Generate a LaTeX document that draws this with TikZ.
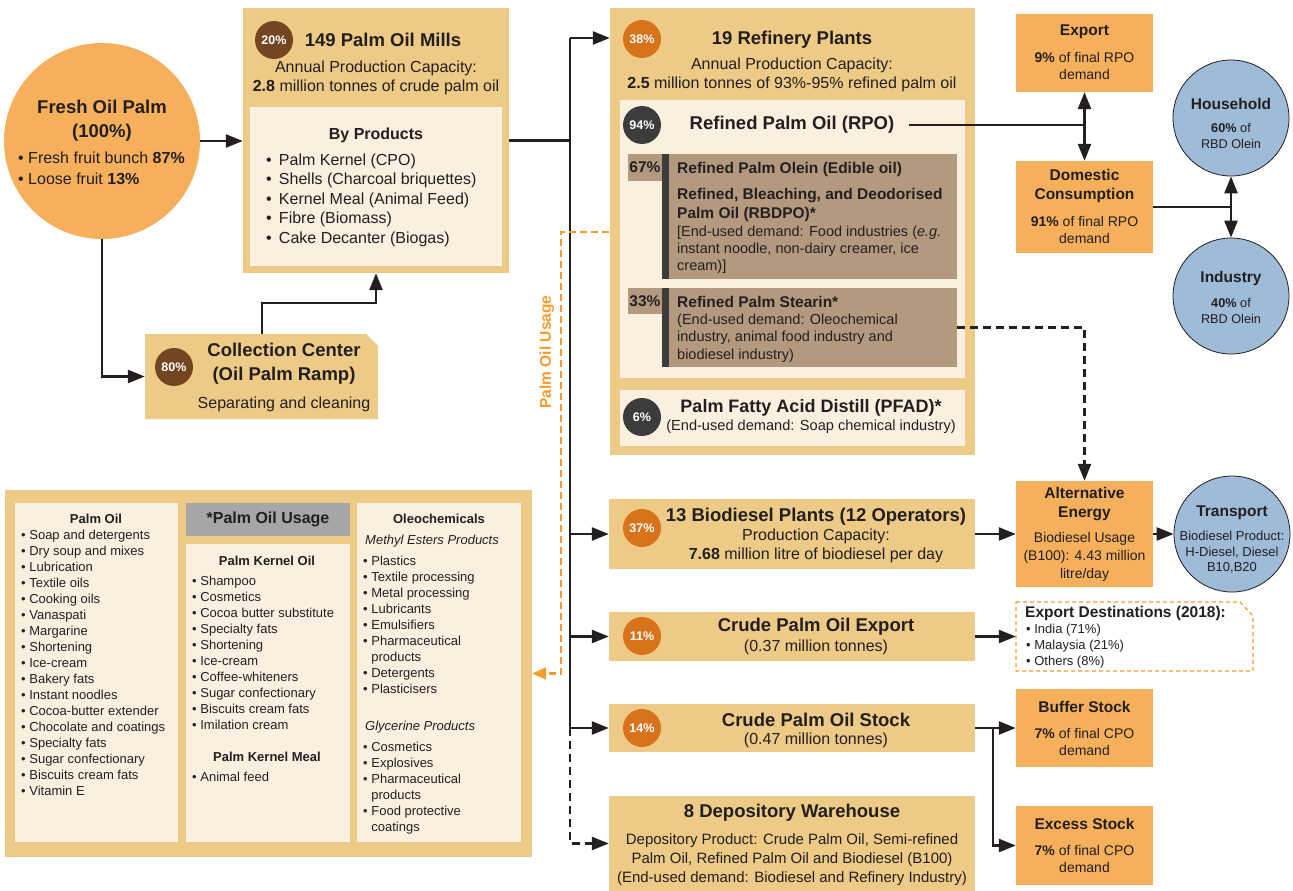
\documentclass[tikz,border=0pt]{standalone}
\usepackage{fontspec}
\setmainfont{Liberation Sans}
\usetikzlibrary{arrows.meta,fit}

\definecolor{ink}{HTML}{231F20}
\definecolor{tanc}{HTML}{EDCA86}
\definecolor{cream}{HTML}{FBF0E0}
\definecolor{peach}{HTML}{F6B05C}
\definecolor{brownpct}{HTML}{744521}
\definecolor{orangepct}{HTML}{D8731C}
\definecolor{darkpct}{HTML}{3D3C3C}
\definecolor{olein}{HTML}{B39A7F}
\definecolor{header}{HTML}{A6A6A6}
\definecolor{sky}{HTML}{9EBBD8}
\definecolor{usageor}{HTML}{F59C2C}

\newcommand{\fsz}[2]{\fontsize{#1}{#2}\selectfont}
\newcommand{\bul}{\textbullet\ }

\begin{document}
\begin{tikzpicture}[x=1pt,y=-1pt,
  panel/.style={fill=#1,inner sep=0pt},
  pct/.style={circle,fill=#1,text=white,inner sep=0pt,minimum size=38pt,font=\bfseries\fsz{12.5}{13}},
  endcirc/.style={circle,draw=ink,line width=0.8pt,fill=sky,minimum size=#1,inner sep=0pt},
  ttl/.style={font=\bfseries\fsz{18.5}{24},text=ink,align=center,inner sep=0pt},
  body/.style={font=\fsz{16}{19},text=ink,align=center,inner sep=0pt},
  sttl/.style={font=\bfseries\fsz{15.5}{18.5},text=ink,align=center,inner sep=0pt},
  sbody/.style={font=\fsz{14}{17.5},text=ink,align=center,inner sep=0pt},
  lst/.style={font=\fsz{13}{16},text=ink,align=left,inner sep=0pt,anchor=north west},
  ln/.style={draw=ink,line width=2.5pt},
  arr/.style={ln,-{Triangle[length=17pt,width=13pt]}},
  dasharr/.style={arr,dash pattern=on 8pt off 5pt},
  usagearr/.style={draw=usageor,line width=2.2pt,dash pattern=on 7pt off 4pt,-{Triangle[length=14pt,width=12pt]}}]
\useasboundingbox (0,0) rectangle (1293,891);

% fresh oil palm
\node[circle,fill=peach,minimum size=196pt,inner sep=0pt] (fresh) at (102,141) {};
\node[ttl] at (102,121) {Fresh Oil Palm\\(100\%)};
\node[body,align=left,anchor=west,font=\fsz{16}{21}] at (18,168) {\bul Fresh fruit bunch \textbf{87\%}\\\bul Loose fruit \textbf{13\%}};

% mills
\node[panel=tanc,fit={(243,8) (509,273)}] (mills) {};
\node[panel=cream,fit={(250,107) (502,266)}] (byprod) {};
\node[pct=brownpct] at (274,40) {20\%};
\node[ttl] at (383,40) {149 Palm Oil Mills};
\node[body] at (376,77.5) {Annual Production Capacity:\\\textbf{2.8} million tonnes of crude palm oil};
\node[ttl,font=\bfseries\fsz{16}{19}] at (376,135) {By Products};
\node[body,align=left,anchor=west,font=\fsz{16}{19.5}] at (266,200) {\textbullet\hspace{0.45em}Palm Kernel (CPO)\\\textbullet\hspace{0.45em}Shells (Charcoal briquettes)\\\textbullet\hspace{0.45em}Kernel Meal (Animal Feed)\\\textbullet\hspace{0.45em}Fibre (Biomass)\\\textbullet\hspace{0.45em}Cake Decanter (Biogas)};

% collection center
\fill[tanc] (145,334) -- (366,334) -- (378,346) -- (378,419) -- (145,419) -- cycle;
\node[fit={(145,334) (378,419)},inner sep=0pt] (coll) {};
\node[pct=brownpct] at (174,367) {80\%};
\node[ttl] at (284,364) {Collection Center\\(Oil Palm Ramp)};
\node[body] at (284,404) {Separating and cleaning};

\draw[arr] (fresh.east) -- (fresh.east -| mills.west);
\draw[arr] (fresh.south) |- (coll.west);
\draw[arr] ([xshift=117pt]coll.north west) |- ([yshift=-30pt]mills.south) -- (mills.south);

% trunk
\coordinate (ttop) at (570,38);
\coordinate (tmid) at (570,728);
\draw[ln] (mills.east) -- (mills.east -| ttop);
\draw[ln] (ttop) -- (tmid);

% refinery
\node[panel=tanc,fit={(610,8) (975,455)}] (refin) {};
\node[panel=cream,fit={(620,100) (965,378)}] (rpobox) {};
\node[pct=orangepct] at (642,39) {38\%};
\node[ttl] at (792,40) {19 Refinery Plants};
\node[body] at (792,75) {Annual Production Capacity:\\\textbf{2.5} million tonnes of 93\%-95\% refined palm oil};
\node[pct=darkpct] at (642,125) {94\%};
\node[ttl] (rpo) at (792,125) {Refined Palm Oil (RPO)};

\node[panel=olein,fit={(662,154) (957,279)}] (olein) {};
\fill[darkpct] (olein.north west) rectangle ([xshift=7pt]olein.south west);
\node[panel=olein,fit={(628,154) (662,181)}] (t67) {};
\node[font=\bfseries\fsz{15.5}{18},text=ink,inner sep=0pt] at (t67) {67\%};
\node[sttl,anchor=west] at (677,169) {Refined Palm Olein (Edible oil)};
\node[sttl,anchor=west,align=left,font=\bfseries\fsz{15.5}{19}] at (677,204.5) {Refined, Bleaching, and Deodorised\\Palm Oil (RBDPO)*};
\node[sbody,anchor=west,align=left,font=\fsz{14.5}{17}] at (677,250) {[End-used demand: Food industries (\textit{e.g.}\\instant noodle, non-dairy creamer, ice\\cream)]};

\node[panel=olein,fit={(662,288) (957,367)}] (stearin) {};
\fill[darkpct] (stearin.north west) rectangle ([xshift=7pt]stearin.south west);
\node[panel=olein,fit={(628,288) (662,314)}] (t33) {};
\node[font=\bfseries\fsz{15.5}{18},text=ink,inner sep=0pt] at (t33) {33\%};
\node[sttl,anchor=west] at (677,302) {Refined Palm Stearin*};
\node[sbody,anchor=west,align=left,font=\fsz{14.5}{17.5}] at (677,338) {(End-used demand: Oleochemical\\industry, animal food industry and\\biodiesel industry)};

\node[panel=cream,fit={(620,390) (965,446)}] (pfad) {};
\node[pct=darkpct] at (642,417) {6\%};
\node[ttl,font=\bfseries\fsz{18}{20}] at (811,408) {Palm Fatty Acid Distill (PFAD)*};
\node[body,font=\fsz{14.6}{17}] at (811,427) {(End-used demand: Soap chemical industry)};

\draw[arr] (ttop) -- (ttop -| refin.west);

% export and domestic
\node[panel=peach,fit={(1016,14) (1153,92)}] (export) {};
\node[sttl] at (1084.5,32) {Export};
\node[sbody,font=\fsz{14}{17}] at (1084.5,66) {\textbf{9\%} of final RPO\\demand};
\node[panel=peach,fit={(1016,161) (1153,253)}] (domestic) {};
\node[sttl] at (1084.5,186) {Domestic\\Consumption};
\node[sbody] at (1084.5,230) {\textbf{91\%} of final RPO\\demand};

\coordinate (rpoj) at (rpo.east -| export.south);
\draw[ln] ([xshift=15pt]rpo.east) -- (rpoj);
\draw[arr] (rpoj) -- (export.south);
\draw[arr] (rpoj) -- (domestic.north);

% household and industry
\node[endcirc=116pt] (house) at (1231,118) {};
\node[sttl] at (1231,104) {Household};
\node[sbody,font=\fsz{12.7}{16}] at (1231,136) {\textbf{60\%} of\\RBD Olein};
\node[endcirc=116pt] (industry) at (1231,296) {};
\node[sttl] at (1231,278) {Industry};
\node[sbody,font=\fsz{12.7}{16}] at (1231,310.5) {\textbf{40\%} of\\RBD Olein};

\coordinate (domj) at (domestic.east -| house.south);
\draw[ln] (domestic.east) -- (domj);
\draw[arr] (domj) -- (house.south);
\draw[arr] (domj) -- (industry.north);

% alternative energy
\node[panel=peach,fit={(1016,481) (1153,587)}] (alt) {};
\node[sttl] at (1084.5,504) {Alternative\\Energy};
\node[sbody,font=\fsz{14}{18}] at (1084.5,557) {Biodiesel Usage\\(B100): 4.43 million\\litre/day};
\node[endcirc=116pt] (transport) at (1232,534) {};
\node[sttl] at (1232,513) {Transport};
\node[sbody,font=\fsz{13}{15.5}] at (1232,552.5) {Biodiesel Product:\\H-Diesel, Diesel\\B10,B20};

\draw[dasharr] (stearin.east) -| (alt.north);
\draw[arr] (alt.east) -- (transport.west);

% biodiesel plants
\node[panel=tanc,fit={(609,499) (975,569)}] (bio) {};
\node[pct=orangepct] at (642,528) {37\%};
\node[ttl] at (816,517) {13 Biodiesel Plants (12 Operators)};
\node[body,font=\fsz{16}{18.5}] at (816,546) {Production Capacity:\\\textbf{7.68} million litre of biodiesel per day};
\draw[arr] (bio.west -| ttop) -- (bio.west);
\draw[arr] (bio.east) -- (alt.west);

% crude palm oil export
\node[panel=tanc,fit={(609,612) (975,661)}] (cpoexp) {};
\node[pct=orangepct] at (642,636) {11\%};
\node[ttl] at (816,627) {Crude Palm Oil Export};
\node[body] at (816,647) {(0.37 million tonnes)};
\draw[usageor,line width=1.2pt,dash pattern=on 4pt off 3pt] (1016,602) -- (1240,602) -- (1253,616) -- (1253,671) -- (1016,671) -- cycle;
\node[fit={(1016,602) (1253,671)},inner sep=0pt] (dest) {};
\node[sttl,anchor=west] at (1025,613) {Export Destinations (2018):};
\node[lst,anchor=west] at (1026,646) {\bul India (71\%)\\\bul Malaysia (21\%)\\\bul Others (8\%)};
\draw[arr] (cpoexp.west -| ttop) -- (cpoexp.west);
\draw[arr] (cpoexp.east) -- (dest.west);

% crude palm oil stock
\node[panel=tanc,fit={(609,704) (975,752)}] (stock) {};
\node[pct=orangepct] at (642,728) {14\%};
\node[ttl] at (816,720) {Crude Palm Oil Stock};
\node[body] at (816,740) {(0.47 million tonnes)};
\node[panel=peach,fit={(1016,689) (1153,767)}] (buffer) {};
\node[sttl] at (1084.5,707) {Buffer Stock};
\node[sbody] at (1084.5,742) {\textbf{7\%} of final CPO\\demand};
\node[panel=peach,fit={(1016,806) (1153,885)}] (excess) {};
\node[sttl] at (1084.5,824) {Excess Stock};
\node[sbody] at (1084.5,859) {\textbf{7\%} of final CPO\\demand};
\draw[arr] (stock.west -| ttop) -- (stock.west);
\draw[arr] (stock.east) -- (buffer.west);
\draw[arr] ([xshift=18pt]stock.east) |- (excess.west);

% depository
\node[panel=tanc,fit={(609,796) (975,891)}] (depot) {};
\node[ttl] at (792,813) {8 Depository Warehouse};
\node[body,font=\fsz{15}{19}] at (792,860) {Depository Product: Crude Palm Oil, Semi-refined\\Palm Oil, Refined Palm Oil and Biodiesel (B100)\\(End-used demand: Biodiesel and Refinery Industry)};
\draw[dasharr] (tmid) |- (depot.west);

% palm oil usage
\node[panel=tanc,fit={(5,490) (532,857)}] (usage) {};
\node[panel=cream,fit={(15,503) (178,842)}] (pocol) {};
\node[panel=header,fit={(186,503) (350,536)}] (usehead) {};
\node[panel=cream,fit={(186,544) (350,842)}] (pkcol) {};
\node[panel=cream,fit={(357,503) (521,842)}] (oleocol) {};
\node[font=\bfseries\fsz{16}{18},text=ink,inner sep=0pt] at (usehead) {*Palm Oil Usage};

\node[font=\bfseries\fsz{13}{16},text=ink,inner sep=0pt] at (96,519) {Palm Oil};
\node[lst] at (21,530) {\bul Soap and detergents\\\bul Dry soup and mixes\\\bul Lubrication\\\bul Textile oils\\\bul Cooking oils\\\bul Vanaspati\\\bul Margarine\\\bul Shortening\\\bul Ice-cream\\\bul Bakery fats\\\bul Instant noodles\\\bul Cocoa-butter extender\\\bul Chocolate and coatings\\\bul Specialty fats\\\bul Sugar confectionary\\\bul Biscuits cream fats\\\bul Vitamin E};

\node[font=\bfseries\fsz{13}{16},text=ink,inner sep=0pt] at (267,561) {Palm Kernel Oil};
\node[lst] at (192,576) {\bul Shampoo\\\bul Cosmetics\\\bul Cocoa butter substitute\\\bul Specialty fats\\\bul Shortening\\\bul Ice-cream\\\bul Coffee-whiteners\\\bul Sugar confectionary\\\bul Biscuits cream fats\\\bul Imilation cream};
\node[font=\bfseries\fsz{13}{16},text=ink,inner sep=0pt] at (267,757) {Palm Kernel Meal};
\node[lst,anchor=west] at (192,777) {\bul Animal feed};

\node[font=\bfseries\fsz{13}{16},text=ink,inner sep=0pt] at (439,519) {Oleochemicals};
\node[lst,anchor=west,font=\itshape\fsz{13}{16}] at (365,541) {Methyl Esters Products};
\node[lst] at (363,556) {\bul Plastics\\\bul Textile processing\\\bul Metal processing\\\bul Lubricants\\\bul Emulsifiers\\\bul Pharmaceutical\\\hphantom{\bul}products\\\bul Detergents\\\bul Plasticisers};
\node[lst,anchor=west,font=\itshape\fsz{13}{16}] at (365,727) {Glycerine Products};
\node[lst] at (363,742) {\bul Cosmetics\\\bul Explosives\\\bul Pharmaceutical\\\hphantom{\bul}products\\\bul Food protective\\\hphantom{\bul}coatings};

\coordinate (usagein) at (609,232);
\draw[usagearr] (usagein) -- (561,232) |- (usage.east);
\node[rotate=90,text=usageor,font=\bfseries\fsz{15.5}{16},inner sep=0pt] at (547,352) {Palm Oil Usage};
\end{tikzpicture}
\end{document}
